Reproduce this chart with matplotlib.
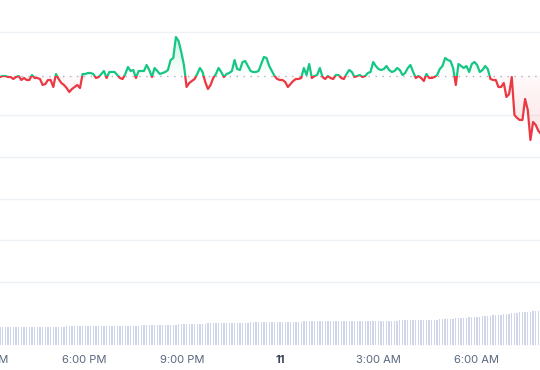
import numpy as np
import pandas as pd
import matplotlib
matplotlib.use("Agg")
import matplotlib.pyplot as plt
import matplotlib.dates as mdates
from matplotlib.colors import to_rgb
from matplotlib.patches import Rectangle
from matplotlib.path import Path
from matplotlib.transforms import blended_transform_factory

plt.rcParams['font.family'] = ['Inter', 'DejaVu Sans']

# price samples (USD), one per ~5 min
price = [
    0.5923, 0.5924, 0.5924, 0.5923, 0.5923, 0.5921, 0.5923, 0.5924, 0.5920, 0.5922,
    0.5920, 0.5920, 0.5925, 0.5922, 0.5922, 0.5921, 0.5915, 0.5916, 0.5920, 0.5920,
    0.5913, 0.5926, 0.5921, 0.5917, 0.5915, 0.5912, 0.5908, 0.5911, 0.5913, 0.5915,
    0.5912, 0.5926, 0.5926, 0.5927, 0.5927, 0.5926, 0.5922, 0.5923, 0.5926, 0.5929,
    0.5922, 0.5928, 0.5928, 0.5928, 0.5925, 0.5922, 0.5921, 0.5926, 0.5933, 0.5929,
    0.5930, 0.5922, 0.5929, 0.5929, 0.5929, 0.5935, 0.5930, 0.5923, 0.5932, 0.5929,
    0.5926, 0.5927, 0.5928, 0.5930, 0.5940, 0.5942, 0.5963, 0.5959, 0.5948, 0.5935,
    0.5913, 0.5917, 0.5919, 0.5921, 0.5926, 0.5932, 0.5928, 0.5918, 0.5911, 0.5915,
    0.5922, 0.5926, 0.5932, 0.5928, 0.5923, 0.5926, 0.5927, 0.5929, 0.5940, 0.5931,
    0.5930, 0.5938, 0.5939, 0.5934, 0.5929, 0.5928, 0.5928, 0.5929, 0.5936, 0.5943,
    0.5942, 0.5934, 0.5929, 0.5924, 0.5921, 0.5920, 0.5920, 0.5918, 0.5913, 0.5916,
    0.5919, 0.5921, 0.5921, 0.5922, 0.5932, 0.5925, 0.5936, 0.5922, 0.5924, 0.5925,
    0.5932, 0.5923, 0.5921, 0.5924, 0.5922, 0.5921, 0.5925, 0.5925, 0.5922, 0.5921,
    0.5926, 0.5930, 0.5928, 0.5923, 0.5924, 0.5925, 0.5923, 0.5924, 0.5927, 0.5928,
    0.5938, 0.5934, 0.5931, 0.5930, 0.5931, 0.5934, 0.5930, 0.5928, 0.5929, 0.5932,
    0.5930, 0.5925, 0.5927, 0.5932, 0.5935, 0.5928, 0.5922, 0.5924, 0.5922, 0.5919,
    0.5926, 0.5922, 0.5922, 0.5923, 0.5925, 0.5931, 0.5934, 0.5942, 0.5940, 0.5939,
    0.5932, 0.5915, 0.5936, 0.5934, 0.5932, 0.5934, 0.5928, 0.5936, 0.5938, 0.5935,
    0.5928, 0.5930, 0.5934, 0.5931, 0.5921, 0.5920, 0.5920, 0.5913, 0.5913, 0.5917,
    0.5903, 0.5906, 0.5923, 0.5885, 0.5882, 0.5880, 0.5880, 0.5901, 0.5890, 0.5860,
    0.5878, 0.5875, 0.5869, 0.5866,
]

# 24h volume bars (thousands)
volume = (
    [183] * 21
    + [185, 185, 185, 185, 186, 186, 186, 186, 186, 187, 187, 187, 187, 188, 188,
       188, 188, 189, 189, 189, 190]
    + [190, 191, 191, 192, 192, 193, 193, 194, 194, 195, 195, 196, 196, 197, 197]
    + [198, 199, 200, 200, 201, 202, 203, 203, 204, 205, 206]
    + [207, 208, 208, 209, 210, 211, 212, 213, 214, 215, 216, 217, 218, 219, 220,
       220, 221, 221, 222]
    + [222, 223, 223, 224, 224, 225, 225, 226, 226, 227, 227, 228, 228, 229, 229]
    + [230, 230, 231, 231, 232, 232, 233, 233, 234, 234, 235, 235, 236]
    + [236, 236, 237, 237, 237, 238, 238, 238, 238, 239, 239, 239, 239, 240, 240,
       240, 240, 240, 241, 241, 241, 241, 242, 242, 242, 242]
    + [243, 243, 243, 244, 244, 244, 245, 245, 245, 246, 246, 246, 247, 247, 247,
       248, 248, 249, 249, 250, 250]
    + [252, 253, 255, 256, 258, 259, 261, 262, 264, 266, 268]
    + [270, 272, 274, 276, 278, 280, 282, 284, 286, 288]
    + [290, 293, 296, 299, 302, 305, 308, 311, 314, 317]
    + [320, 323, 326, 328, 330, 332, 334, 336, 338, 340, 342]
)

open_price = 0.5924
start, end = '2024-06-10 15:26', '2024-06-11 07:59'
view_end = '2024-06-11 07:57'

tick_times = ['2024-06-10 18:00', '2024-06-10 21:00', '2024-06-11 00:00',
              '2024-06-11 03:00', '2024-06-11 06:00']
tick_labels = ['6:00 PM', '9:00 PM', '11', '3:00 AM', '6:00 AM']
cut_tick = ('2024-06-10 15:00', '3:00 PM')

grid_levels = [0.5718, 0.5760, 0.5801, 0.5843, 0.5885, 0.5968]

green = '#16c784'
red = '#ea3943'
label_grey = '#58667e'

times = pd.date_range(start, end, periods=len(price))
t = mdates.date2num(times)
p = np.array(price)

fig = plt.figure(figsize=(5.4, 3.7), dpi=100)
ax = fig.add_axes([0, 25 / 370, 1, 325 / 370])
axv = ax.twinx()
ax.set_zorder(axv.get_zorder() + 1)
ax.patch.set_visible(False)

# volume
axv.bar(t, volume, width=(t[1] - t[0]) * 0.5, color='#cfd6ea', linewidth=0)
axv.set_ylim(0, 3250)
axv.axis('off')

# price line, green above the open, red below
band = blended_transform_factory(ax.transAxes, ax.transData)
for col, rect in ((green, Rectangle((0, open_price), 1, 1, transform=band)),
                  (red, Rectangle((0, open_price - 1), 1, 1, transform=band))):
    ln, = ax.plot(t, p, color=col, lw=1.6, solid_joinstyle='round', zorder=4)
    ln.set_clip_path(rect)

# soft gradient fills between line and open
def gradient_fill(mask, col, lo, hi, a_top, a_bottom):
    poly = ax.fill_between(t, p, open_price, where=mask, interpolate=True,
                           color='none', lw=0)
    grad = np.zeros((100, 1, 4))
    grad[..., :3] = to_rgb(col)
    grad[:, 0, 3] = np.linspace(a_top, a_bottom, 100)
    im = ax.imshow(grad, extent=[t[0], t[-1], lo, hi], aspect='auto',
                   origin='upper', zorder=2)
    im.set_clip_path(Path.make_compound_path(*poly.get_paths()), ax.transData)

gradient_fill(p >= open_price, green, open_price, p.max(), 0.22, 0.0)
gradient_fill(p <= open_price, red, p.min(), open_price, 0.03, 0.14)

ax.axhline(open_price, color='#a7b0c2', lw=1, ls=(0, (1, 4)), zorder=3)

ax.set_xlim(mdates.date2num(pd.Timestamp(start)), mdates.date2num(pd.Timestamp(view_end)))
ax.set_ylim(0.5655, 0.5980)

ax.set_yticks(grid_levels)
ax.grid(axis='y', color='#eff2f5', lw=1)
ax.set_axisbelow(True)
for s in ax.spines.values():
    s.set_visible(False)

ax.set_xticks(mdates.date2num(pd.to_datetime(tick_times)))
ax.set_xticklabels(tick_labels)
ax.tick_params(axis='x', length=0, pad=7, labelsize=8, labelcolor=label_grey)
ax.tick_params(axis='y', length=0, labelleft=False)
for lab in ax.get_xticklabels():
    if lab.get_text() == '11':
        lab.set_fontweight('bold')
        lab.set_color('#3a4352')

# the 3:00 PM label sits half off the left edge
ax.annotate(cut_tick[1], xy=(mdates.date2num(pd.Timestamp(cut_tick[0])), 0),
            xycoords=('data', 'axes fraction'), xytext=(0, -7),
            textcoords='offset points', ha='center', va='top',
            fontsize=8, color=label_grey, annotation_clip=False)

fig.savefig('out.png', dpi=100)
